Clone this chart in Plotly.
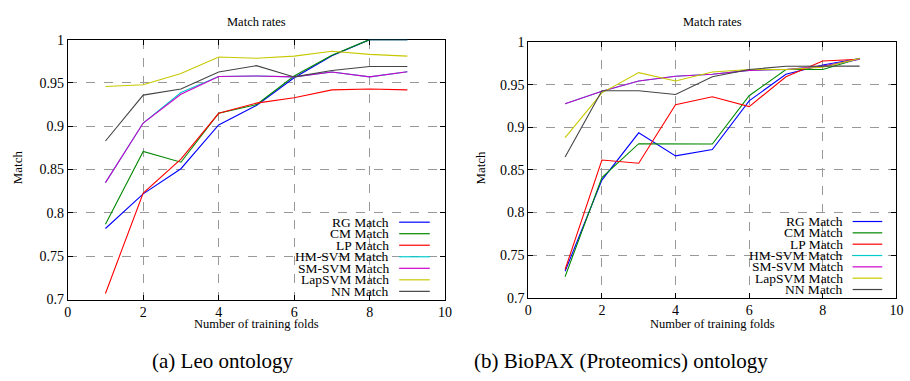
import plotly.graph_objects as go

folds = [1, 2, 3, 4, 5, 6, 7, 8, 9]
series_names = ["RG Match", "CM Match", "LP Match", "HM-SVM Match",
                "SM-SVM Match", "LapSVM Match", "NN Match"]
colors = ["#0000ff", "#008800", "#ff0000", "#00cccc", "#cc00cc", "#c8c800", "#444444"]

# (a) Leo ontology
leo_rg = [0.782, 0.822, 0.851, 0.9015, 0.924, 0.956, 0.9815, 1.0, 1.0]
leo_cm = [0.787, 0.871, 0.8585, 0.915, 0.925, 0.958, 0.982, 1.0, 1.0]
leo_lp = [0.707, 0.823, 0.862, 0.915, 0.9267, 0.933, 0.942, 0.943, 0.942]
leo_hm = [0.835, 0.9037, 0.939, 0.9574, 0.958, 0.957, 0.9626, 0.957, 0.963]
leo_sm = [0.835, 0.9037, 0.937, 0.9574, 0.958, 0.957, 0.9626, 0.957, 0.963]
leo_lap = [0.946, 0.948, 0.961, 0.980, 0.9785, 0.981, 0.9867, 0.983, 0.981]
leo_nn = [0.883, 0.936, 0.943, 0.9626, 0.970, 0.957, 0.9644, 0.969, 0.969]

# (b) BioPAX (Proteomics) ontology
bio_rg = [0.731, 0.838, 0.8936, 0.8665, 0.874, 0.9312, 0.9624, 0.9733, 0.981]
bio_cm = [0.7246, 0.8409, 0.8808, 0.881, 0.8804, 0.9372, 0.968, 0.968, 0.981]
bio_lp = [0.733, 0.8616, 0.8578, 0.9267, 0.936, 0.9244, 0.9594, 0.9779, 0.980]
bio_hm = [0.9278, 0.9425, 0.9545, 0.960, 0.9624, 0.967, 0.968, 0.972, 0.980]
bio_sm = [0.9278, 0.9425, 0.9545, 0.960, 0.9624, 0.967, 0.968, 0.972, 0.980]
bio_lap = [0.888, 0.9406, 0.9643, 0.9545, 0.965, 0.968, 0.968, 0.9707, 0.981]
bio_nn = [0.8653, 0.943, 0.943, 0.9387, 0.9594, 0.968, 0.9718, 0.972, 0.972]

x_ticks = [0, 2, 4, 6, 8, 10]
y_ticks = [0.7, 0.75, 0.8, 0.85, 0.9, 0.95, 1.0]
y_tick_labels = ["0.7", "0.75", "0.8", "0.85", "0.9", "0.95", "1"]

W, H = 910, 381
FONT = "Liberation Serif"

leo = [leo_rg, leo_cm, leo_lp, leo_hm, leo_sm, leo_lap, leo_nn]
bio = [bio_rg, bio_cm, bio_lp, bio_hm, bio_sm, bio_lap, bio_nn]

fig = go.Figure()
for i, name in enumerate(series_names):
    fig.add_trace(go.Scatter(x=folds, y=leo[i], mode="lines", name=name,
                             line=dict(color=colors[i], width=1.1),
                             xaxis="x", yaxis="y", showlegend=False, cliponaxis=False))
for i, name in enumerate(series_names):
    fig.add_trace(go.Scatter(x=folds, y=bio[i], mode="lines", name=name,
                             line=dict(color=colors[i], width=1.1),
                             xaxis="x2", yaxis="y2", showlegend=False, cliponaxis=False))

# plot-area pixel boxes (left, right, top, bottom)
boxes = [(64.5, 446.5, 34, 304.5), (530.7, 903.3, 36.7, 302.5)]

def xd(l, r):
    return [l / W, r / W]

def yd(t, b):
    return [(H - b) / H, (H - t) / H]

common_x = dict(range=[0, 10], tickvals=x_ticks, ticks="inside", ticklen=5,
                tickcolor="black", showline=True, linecolor="black", linewidth=1,
                mirror="ticks", showgrid=True, gridcolor="#999999", griddash="dash",
                gridwidth=1, zeroline=False, ticklabeloverflow="allow",
                layer="below traces",
                tickfont=dict(family=FONT, size=14, color="black"))

common_y = dict(range=[0.7, 1.0], tickvals=y_ticks, ticktext=y_tick_labels,
                ticks="inside", ticklen=5, tickcolor="black", showline=True,
                linecolor="black", linewidth=1, mirror="ticks", showgrid=True,
                gridcolor="#999999", griddash="dash", gridwidth=1, zeroline=False,
                ticklabeloverflow="allow", layer="below traces",
                tickfont=dict(family=FONT, size=14, color="black"))

fig.update_layout(
    width=W, height=H, autosize=False,
    margin=dict(l=0, r=0, t=0, b=0),
    paper_bgcolor="white", plot_bgcolor="white",
    font=dict(family=FONT, color="black"),
    hovermode=False,
    xaxis=dict(domain=xd(boxes[0][0], boxes[0][1]), anchor="y", **common_x),
    yaxis=dict(domain=yd(boxes[0][2], boxes[0][3]), anchor="x", **common_y),
    xaxis2=dict(domain=xd(boxes[1][0], boxes[1][1]), anchor="y2", **common_x),
    yaxis2=dict(domain=yd(boxes[1][2], boxes[1][3]), anchor="x2", **common_y),
)

annotations = []
shapes = []
for k, (l, r, t, b) in enumerate(boxes):
    cx = (l + r) / 2
    annotations.append(dict(text="Match rates", x=cx / W, y=(H - 16) / H,
                            xref="paper", yref="paper", showarrow=False,
                            xanchor="center", yanchor="middle",
                            font=dict(family=FONT, size=12.5)))
    annotations.append(dict(text="Number of training folds", x=cx / W, y=(H - 330) / H,
                            xref="paper", yref="paper", showarrow=False,
                            xanchor="center", yanchor="middle",
                            font=dict(family=FONT, size=12.5)))
    mx = 14 if k == 0 else 482
    annotations.append(dict(text="Match", x=mx / W, y=(H - 167) / H,
                            xref="paper", yref="paper", showarrow=False,
                            textangle=-90, xanchor="center", yanchor="middle",
                            font=dict(family=FONT, size=13)))

captions = ["(a) Leo ontology", "(b) BioPAX (Proteomics) ontology"]
cap_x = [222, 625]
for k in range(2):
    annotations.append(dict(text=captions[k], x=cap_x[k] / W, y=(H - 369) / H,
                            xref="paper", yref="paper", showarrow=False,
                            xanchor="center", yanchor="middle",
                            font=dict(family=FONT, size=21)))

# gnuplot-style key (text right-aligned, sample line to the right)
keys = [dict(text_right=392, l0=400, l1=431, y0=224, dy=12.0),
        dict(text_right=851, l0=859, l1=889, y0=223.3, dy=11.8)]
for key in keys:
    for i, name in enumerate(series_names):
        yy = key["y0"] + i * key["dy"]
        annotations.append(dict(text=name, x=key["text_right"] / W, y=(H - yy) / H,
                                xref="paper", yref="paper", showarrow=False,
                                xanchor="right", yanchor="middle",
                                font=dict(family=FONT, size=13.5)))
        shapes.append(dict(type="line", xref="paper", yref="paper",
                           x0=key["l0"] / W, x1=key["l1"] / W,
                           y0=(H - yy) / H, y1=(H - yy) / H,
                           line=dict(color=colors[i], width=1.2)))

fig.update_layout(annotations=annotations, shapes=shapes)
fig.write_html("out.html", config={"displayModeBar": False, "staticPlot": True},
               post_script="document.body.style.margin='0';document.body.style.padding='0';")
